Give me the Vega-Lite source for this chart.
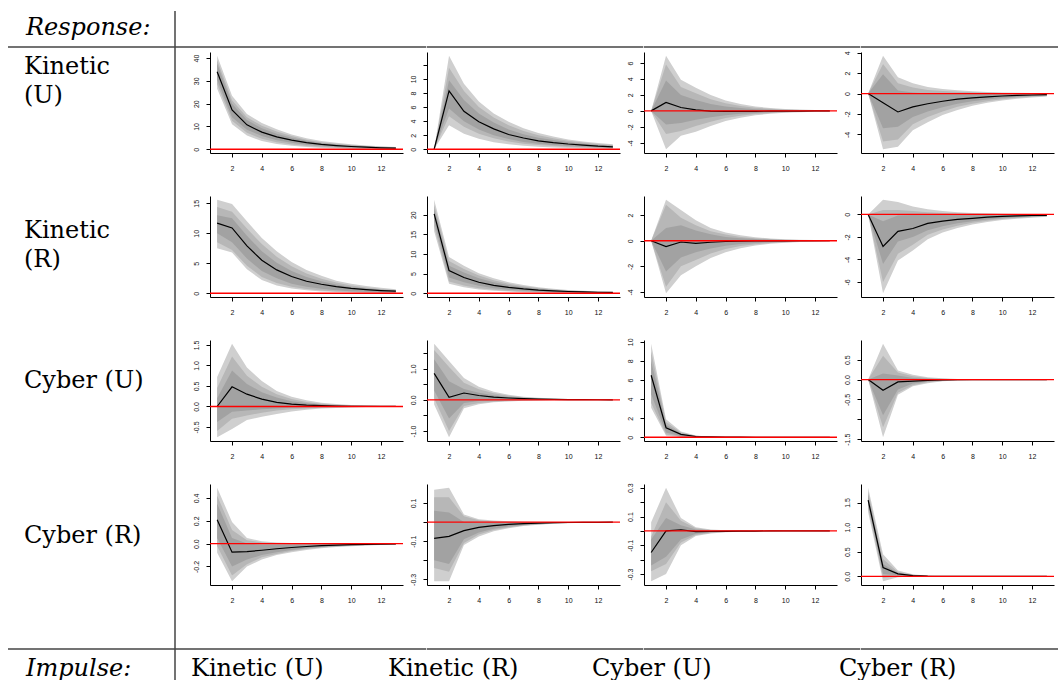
{
  "$schema": "https://vega.github.io/schema/vega-lite/v6.json",
  "background": "white",
  "padding": {"left": 7, "top": 0, "right": 0, "bottom": 0},
  "columns": 5,
  "spacing": 0,
  "bounds": "flush",
  "align": "each",
  "datasets": {
    "one": [{"k": 1}],
    "irf": [
      {"r":"KU","i":"KU","h":1,"m":34,"l1":30.5,"u1":37.5,"l2":28.5,"u2":39,"l3":26.5,"u3":41},
      {"r":"KU","i":"KU","h":2,"m":17.2,"l1":14,"u1":20,"l2":12.5,"u2":21.5,"l3":11,"u3":23.5},
      {"r":"KU","i":"KU","h":3,"m":10.7,"l1":8.5,"u1":12.8,"l2":7.2,"u2":14,"l3":6,"u3":15.5},
      {"r":"KU","i":"KU","h":4,"m":7.5,"l1":5.8,"u1":9.2,"l2":4.6,"u2":10.3,"l3":3.6,"u3":11.5},
      {"r":"KU","i":"KU","h":5,"m":5.4,"l1":4,"u1":6.8,"l2":3.1,"u2":7.8,"l3":2.3,"u3":8.8},
      {"r":"KU","i":"KU","h":6,"m":4,"l1":2.8,"u1":5.1,"l2":2.1,"u2":5.8,"l3":1.5,"u3":6.5},
      {"r":"KU","i":"KU","h":7,"m":2.9,"l1":2,"u1":3.7,"l2":1.4,"u2":4.2,"l3":1,"u3":4.8},
      {"r":"KU","i":"KU","h":8,"m":2.1,"l1":1.4,"u1":2.7,"l2":0.95,"u2":3.1,"l3":0.6,"u3":3.6},
      {"r":"KU","i":"KU","h":9,"m":1.6,"l1":1,"u1":2.05,"l2":0.65,"u2":2.4,"l3":0.4,"u3":2.8},
      {"r":"KU","i":"KU","h":10,"m":1.2,"l1":0.7,"u1":1.6,"l2":0.45,"u2":1.9,"l3":0.25,"u3":2.2},
      {"r":"KU","i":"KU","h":11,"m":0.9,"l1":0.5,"u1":1.2,"l2":0.3,"u2":1.45,"l3":0.15,"u3":1.7},
      {"r":"KU","i":"KU","h":12,"m":0.65,"l1":0.35,"u1":0.9,"l2":0.2,"u2":1.1,"l3":0.1,"u3":1.3},
      {"r":"KU","i":"KU","h":13,"m":0.5,"l1":0.25,"u1":0.7,"l2":0.15,"u2":0.85,"l3":0.05,"u3":1},

      {"r":"KU","i":"KR","h":1,"m":0,"l1":0,"u1":0,"l2":0,"u2":0,"l3":0,"u3":0},
      {"r":"KU","i":"KR","h":2,"m":8.3,"l1":5.8,"u1":9.8,"l2":4.7,"u2":11.6,"l3":3.4,"u3":13.3},
      {"r":"KU","i":"KR","h":3,"m":5.4,"l1":4,"u1":7,"l2":3.2,"u2":8.3,"l3":2.2,"u3":9.3},
      {"r":"KU","i":"KR","h":4,"m":3.9,"l1":2.8,"u1":5.1,"l2":2.2,"u2":6,"l3":1.5,"u3":6.8},
      {"r":"KU","i":"KR","h":5,"m":2.9,"l1":2,"u1":3.8,"l2":1.55,"u2":4.5,"l3":1,"u3":5.1},
      {"r":"KU","i":"KR","h":6,"m":2.1,"l1":1.45,"u1":2.8,"l2":1.1,"u2":3.4,"l3":0.7,"u3":3.9},
      {"r":"KU","i":"KR","h":7,"m":1.6,"l1":1.05,"u1":2.15,"l2":0.8,"u2":2.6,"l3":0.5,"u3":3},
      {"r":"KU","i":"KR","h":8,"m":1.2,"l1":0.8,"u1":1.65,"l2":0.6,"u2":2,"l3":0.36,"u3":2.3},
      {"r":"KU","i":"KR","h":9,"m":0.95,"l1":0.6,"u1":1.3,"l2":0.45,"u2":1.55,"l3":0.26,"u3":1.8},
      {"r":"KU","i":"KR","h":10,"m":0.75,"l1":0.45,"u1":1,"l2":0.33,"u2":1.2,"l3":0.19,"u3":1.4},
      {"r":"KU","i":"KR","h":11,"m":0.6,"l1":0.35,"u1":0.8,"l2":0.25,"u2":0.95,"l3":0.14,"u3":1.1},
      {"r":"KU","i":"KR","h":12,"m":0.45,"l1":0.27,"u1":0.62,"l2":0.19,"u2":0.75,"l3":0.1,"u3":0.9},
      {"r":"KU","i":"KR","h":13,"m":0.35,"l1":0.2,"u1":0.5,"l2":0.14,"u2":0.6,"l3":0.07,"u3":0.7},

      {"r":"KU","i":"CU","h":1,"m":0,"l1":0,"u1":0,"l2":0,"u2":0,"l3":0,"u3":0},
      {"r":"KU","i":"CU","h":2,"m":1.05,"l1":-1.7,"u1":3.8,"l2":-2.9,"u2":5.8,"l3":-4.8,"u3":6.9},
      {"r":"KU","i":"CU","h":3,"m":0.42,"l1":-1.5,"u1":2,"l2":-2.5,"u2":3,"l3":-3.1,"u3":3.9},
      {"r":"KU","i":"CU","h":4,"m":0.13,"l1":-1.1,"u1":1.35,"l2":-1.9,"u2":2.2,"l3":-2.6,"u3":2.9},
      {"r":"KU","i":"CU","h":5,"m":-0.02,"l1":-0.8,"u1":0.85,"l2":-1.35,"u2":1.45,"l3":-1.9,"u3":2},
      {"r":"KU","i":"CU","h":6,"m":-0.06,"l1":-0.55,"u1":0.55,"l2":-0.9,"u2":0.95,"l3":-1.25,"u3":1.3},
      {"r":"KU","i":"CU","h":7,"m":-0.06,"l1":-0.37,"u1":0.35,"l2":-0.6,"u2":0.62,"l3":-0.85,"u3":0.85},
      {"r":"KU","i":"CU","h":8,"m":-0.05,"l1":-0.25,"u1":0.22,"l2":-0.4,"u2":0.4,"l3":-0.55,"u3":0.55},
      {"r":"KU","i":"CU","h":9,"m":-0.04,"l1":-0.17,"u1":0.14,"l2":-0.27,"u2":0.26,"l3":-0.36,"u3":0.36},
      {"r":"KU","i":"CU","h":10,"m":-0.03,"l1":-0.11,"u1":0.09,"l2":-0.18,"u2":0.17,"l3":-0.24,"u3":0.24},
      {"r":"KU","i":"CU","h":11,"m":-0.02,"l1":-0.07,"u1":0.06,"l2":-0.12,"u2":0.11,"l3":-0.16,"u3":0.16},
      {"r":"KU","i":"CU","h":12,"m":-0.01,"l1":-0.05,"u1":0.04,"l2":-0.08,"u2":0.07,"l3":-0.1,"u3":0.1},
      {"r":"KU","i":"CU","h":13,"m":-0.01,"l1":-0.03,"u1":0.02,"l2":-0.05,"u2":0.05,"l3":-0.07,"u3":0.07},

      {"r":"KU","i":"CR","h":1,"m":0,"l1":0,"u1":0,"l2":0,"u2":0,"l3":0,"u3":0},
      {"r":"KU","i":"CR","h":2,"m":-0.9,"l1":-3.4,"u1":1.9,"l2":-4.7,"u2":2.9,"l3":-5.45,"u3":3.7},
      {"r":"KU","i":"CR","h":3,"m":-1.8,"l1":-3.25,"u1":0.3,"l2":-4.5,"u2":1,"l3":-5.2,"u3":1.6},
      {"r":"KU","i":"CR","h":4,"m":-1.3,"l1":-2.3,"u1":0.1,"l2":-3,"u2":0.6,"l3":-3.6,"u3":1},
      {"r":"KU","i":"CR","h":5,"m":-1,"l1":-1.75,"u1":0,"l2":-2.3,"u2":0.35,"l3":-2.8,"u3":0.65},
      {"r":"KU","i":"CR","h":6,"m":-0.75,"l1":-1.35,"u1":-0.02,"l2":-1.75,"u2":0.25,"l3":-2.1,"u3":0.45},
      {"r":"KU","i":"CR","h":7,"m":-0.55,"l1":-1,"u1":-0.02,"l2":-1.3,"u2":0.18,"l3":-1.6,"u3":0.32},
      {"r":"KU","i":"CR","h":8,"m":-0.42,"l1":-0.75,"u1":-0.02,"l2":-1,"u2":0.12,"l3":-1.2,"u3":0.22},
      {"r":"KU","i":"CR","h":9,"m":-0.32,"l1":-0.57,"u1":-0.01,"l2":-0.75,"u2":0.09,"l3":-0.9,"u3":0.16},
      {"r":"KU","i":"CR","h":10,"m":-0.24,"l1":-0.43,"u1":-0.01,"l2":-0.56,"u2":0.06,"l3":-0.68,"u3":0.11},
      {"r":"KU","i":"CR","h":11,"m":-0.18,"l1":-0.33,"u1":0,"l2":-0.42,"u2":0.04,"l3":-0.5,"u3":0.08},
      {"r":"KU","i":"CR","h":12,"m":-0.14,"l1":-0.25,"u1":0,"l2":-0.32,"u2":0.03,"l3":-0.38,"u3":0.05},
      {"r":"KU","i":"CR","h":13,"m":-0.1,"l1":-0.19,"u1":0,"l2":-0.24,"u2":0.02,"l3":-0.29,"u3":0.04},

      {"r":"KR","i":"KU","h":1,"m":11.7,"l1":10,"u1":13,"l2":8.5,"u2":14.4,"l3":7.5,"u3":15.6},
      {"r":"KR","i":"KU","h":2,"m":10.9,"l1":8.5,"u1":12.5,"l2":7.2,"u2":13.6,"l3":6.8,"u3":14.9},
      {"r":"KR","i":"KU","h":3,"m":7.9,"l1":5.8,"u1":9.6,"l2":4.6,"u2":10.8,"l3":4,"u3":12},
      {"r":"KR","i":"KU","h":4,"m":5.5,"l1":3.7,"u1":7,"l2":2.7,"u2":8.2,"l3":2.2,"u3":9.2},
      {"r":"KR","i":"KU","h":5,"m":3.9,"l1":2.5,"u1":5.1,"l2":1.7,"u2":6.1,"l3":1.3,"u3":7},
      {"r":"KR","i":"KU","h":6,"m":2.8,"l1":1.6,"u1":3.7,"l2":1.1,"u2":4.5,"l3":0.8,"u3":5.2},
      {"r":"KR","i":"KU","h":7,"m":2,"l1":1.1,"u1":2.7,"l2":0.7,"u2":3.3,"l3":0.5,"u3":3.9},
      {"r":"KR","i":"KU","h":8,"m":1.5,"l1":0.75,"u1":2,"l2":0.45,"u2":2.4,"l3":0.3,"u3":2.9},
      {"r":"KR","i":"KU","h":9,"m":1.1,"l1":0.5,"u1":1.45,"l2":0.3,"u2":1.8,"l3":0.2,"u3":2.1},
      {"r":"KR","i":"KU","h":10,"m":0.8,"l1":0.35,"u1":1.05,"l2":0.2,"u2":1.3,"l3":0.13,"u3":1.6},
      {"r":"KR","i":"KU","h":11,"m":0.6,"l1":0.25,"u1":0.78,"l2":0.14,"u2":0.95,"l3":0.08,"u3":1.2},
      {"r":"KR","i":"KU","h":12,"m":0.45,"l1":0.18,"u1":0.58,"l2":0.1,"u2":0.72,"l3":0.05,"u3":0.9},
      {"r":"KR","i":"KU","h":13,"m":0.35,"l1":0.13,"u1":0.43,"l2":0.07,"u2":0.54,"l3":0.03,"u3":0.68},

      {"r":"KR","i":"KR","h":1,"m":20.2,"l1":18.5,"u1":21.5,"l2":17,"u2":22.5,"l3":15.8,"u3":23.8},
      {"r":"KR","i":"KR","h":2,"m":5.8,"l1":4,"u1":7,"l2":3,"u2":8.2,"l3":2.4,"u3":9.2},
      {"r":"KR","i":"KR","h":3,"m":4,"l1":2.8,"u1":5.3,"l2":2,"u2":6.2,"l3":1.5,"u3":7},
      {"r":"KR","i":"KR","h":4,"m":2.8,"l1":1.9,"u1":3.8,"l2":1.3,"u2":4.5,"l3":0.95,"u3":5.1},
      {"r":"KR","i":"KR","h":5,"m":2,"l1":1.3,"u1":2.8,"l2":0.9,"u2":3.3,"l3":0.65,"u3":3.8},
      {"r":"KR","i":"KR","h":6,"m":1.5,"l1":0.9,"u1":2.05,"l2":0.6,"u2":2.45,"l3":0.43,"u3":2.8},
      {"r":"KR","i":"KR","h":7,"m":1.1,"l1":0.62,"u1":1.5,"l2":0.4,"u2":1.8,"l3":0.28,"u3":2.1},
      {"r":"KR","i":"KR","h":8,"m":0.8,"l1":0.43,"u1":1.1,"l2":0.27,"u2":1.33,"l3":0.18,"u3":1.55},
      {"r":"KR","i":"KR","h":9,"m":0.6,"l1":0.3,"u1":0.8,"l2":0.18,"u2":0.98,"l3":0.12,"u3":1.15},
      {"r":"KR","i":"KR","h":10,"m":0.45,"l1":0.2,"u1":0.6,"l2":0.12,"u2":0.72,"l3":0.08,"u3":0.85},
      {"r":"KR","i":"KR","h":11,"m":0.35,"l1":0.14,"u1":0.44,"l2":0.08,"u2":0.53,"l3":0.05,"u3":0.63},
      {"r":"KR","i":"KR","h":12,"m":0.26,"l1":0.1,"u1":0.32,"l2":0.05,"u2":0.39,"l3":0.03,"u3":0.47},
      {"r":"KR","i":"KR","h":13,"m":0.2,"l1":0.07,"u1":0.24,"l2":0.03,"u2":0.29,"l3":0.02,"u3":0.35},

      {"r":"KR","i":"CU","h":1,"m":0,"l1":0,"u1":0,"l2":0,"u2":0,"l3":0,"u3":0},
      {"r":"KR","i":"CU","h":2,"m":-0.45,"l1":-2.4,"u1":1,"l2":-3.6,"u2":2.8,"l3":-4.1,"u3":3.2},
      {"r":"KR","i":"CU","h":3,"m":-0.1,"l1":-1.3,"u1":1.2,"l2":-2,"u2":1.8,"l3":-2.7,"u3":2.4},
      {"r":"KR","i":"CU","h":4,"m":-0.2,"l1":-0.9,"u1":0.8,"l2":-1.5,"u2":1.2,"l3":-2,"u3":1.6},
      {"r":"KR","i":"CU","h":5,"m":-0.12,"l1":-0.6,"u1":0.5,"l2":-1,"u2":0.75,"l3":-1.35,"u3":1},
      {"r":"KR","i":"CU","h":6,"m":-0.06,"l1":-0.4,"u1":0.3,"l2":-0.65,"u2":0.48,"l3":-0.9,"u3":0.65},
      {"r":"KR","i":"CU","h":7,"m":-0.04,"l1":-0.26,"u1":0.2,"l2":-0.42,"u2":0.3,"l3":-0.58,"u3":0.42},
      {"r":"KR","i":"CU","h":8,"m":-0.02,"l1":-0.17,"u1":0.13,"l2":-0.27,"u2":0.2,"l3":-0.37,"u3":0.27},
      {"r":"KR","i":"CU","h":9,"m":-0.01,"l1":-0.11,"u1":0.08,"l2":-0.18,"u2":0.13,"l3":-0.24,"u3":0.18},
      {"r":"KR","i":"CU","h":10,"m":-0.01,"l1":-0.07,"u1":0.05,"l2":-0.12,"u2":0.08,"l3":-0.16,"u3":0.12},
      {"r":"KR","i":"CU","h":11,"m":0,"l1":-0.05,"u1":0.03,"l2":-0.08,"u2":0.05,"l3":-0.1,"u3":0.08},
      {"r":"KR","i":"CU","h":12,"m":0,"l1":-0.03,"u1":0.02,"l2":-0.05,"u2":0.035,"l3":-0.07,"u3":0.05},
      {"r":"KR","i":"CU","h":13,"m":0,"l1":-0.02,"u1":0.01,"l2":-0.03,"u2":0.02,"l3":-0.04,"u3":0.03},

      {"r":"KR","i":"CR","h":1,"m":0,"l1":0,"u1":0,"l2":0,"u2":0,"l3":0,"u3":0},
      {"r":"KR","i":"CR","h":2,"m":-2.85,"l1":-4.4,"u1":-0.6,"l2":-6,"u2":0.4,"l3":-7,"u3":1.3},
      {"r":"KR","i":"CR","h":3,"m":-1.5,"l1":-2.4,"u1":-0.1,"l2":-3.5,"u2":0.4,"l3":-4.1,"u3":1.1},
      {"r":"KR","i":"CR","h":4,"m":-1.25,"l1":-2,"u1":-0.05,"l2":-2.7,"u2":0.3,"l3":-3.2,"u3":0.7},
      {"r":"KR","i":"CR","h":5,"m":-0.8,"l1":-1.4,"u1":-0.05,"l2":-1.8,"u2":0.2,"l3":-2.2,"u3":0.45},
      {"r":"KR","i":"CR","h":6,"m":-0.6,"l1":-1.05,"u1":-0.05,"l2":-1.35,"u2":0.12,"l3":-1.6,"u3":0.3},
      {"r":"KR","i":"CR","h":7,"m":-0.45,"l1":-0.78,"u1":-0.04,"l2":-1,"u2":0.08,"l3":-1.2,"u3":0.2},
      {"r":"KR","i":"CR","h":8,"m":-0.35,"l1":-0.6,"u1":-0.03,"l2":-0.75,"u2":0.05,"l3":-0.9,"u3":0.13},
      {"r":"KR","i":"CR","h":9,"m":-0.25,"l1":-0.45,"u1":-0.02,"l2":-0.56,"u2":0.03,"l3":-0.67,"u3":0.09},
      {"r":"KR","i":"CR","h":10,"m":-0.18,"l1":-0.34,"u1":-0.02,"l2":-0.42,"u2":0.02,"l3":-0.5,"u3":0.06},
      {"r":"KR","i":"CR","h":11,"m":-0.14,"l1":-0.26,"u1":-0.01,"l2":-0.32,"u2":0.01,"l3":-0.38,"u3":0.04},
      {"r":"KR","i":"CR","h":12,"m":-0.1,"l1":-0.2,"u1":-0.01,"l2":-0.24,"u2":0.01,"l3":-0.29,"u3":0.03},
      {"r":"KR","i":"CR","h":13,"m":-0.08,"l1":-0.15,"u1":-0.01,"l2":-0.18,"u2":0,"l3":-0.22,"u3":0.02},

      {"r":"CU","i":"KU","h":1,"m":0,"l1":-0.38,"u1":0.2,"l2":-0.6,"u2":0.45,"l3":-0.75,"u3":0.72},
      {"r":"CU","i":"KU","h":2,"m":0.48,"l1":-0.13,"u1":0.88,"l2":-0.3,"u2":1.22,"l3":-0.55,"u3":1.53},
      {"r":"CU","i":"KU","h":3,"m":0.3,"l1":-0.1,"u1":0.55,"l2":-0.22,"u2":0.75,"l3":-0.33,"u3":0.95},
      {"r":"CU","i":"KU","h":4,"m":0.18,"l1":-0.07,"u1":0.35,"l2":-0.15,"u2":0.48,"l3":-0.25,"u3":0.62},
      {"r":"CU","i":"KU","h":5,"m":0.1,"l1":-0.05,"u1":0.22,"l2":-0.1,"u2":0.3,"l3":-0.18,"u3":0.38},
      {"r":"CU","i":"KU","h":6,"m":0.06,"l1":-0.03,"u1":0.13,"l2":-0.07,"u2":0.18,"l3":-0.12,"u3":0.24},
      {"r":"CU","i":"KU","h":7,"m":0.035,"l1":-0.02,"u1":0.08,"l2":-0.05,"u2":0.11,"l3":-0.08,"u3":0.15},
      {"r":"CU","i":"KU","h":8,"m":0.02,"l1":-0.012,"u1":0.05,"l2":-0.03,"u2":0.07,"l3":-0.05,"u3":0.09},
      {"r":"CU","i":"KU","h":9,"m":0.01,"l1":-0.008,"u1":0.03,"l2":-0.02,"u2":0.04,"l3":-0.035,"u3":0.06},
      {"r":"CU","i":"KU","h":10,"m":0.005,"l1":-0.005,"u1":0.018,"l2":-0.015,"u2":0.025,"l3":-0.022,"u3":0.035},
      {"r":"CU","i":"KU","h":11,"m":0.003,"l1":-0.003,"u1":0.011,"l2":-0.01,"u2":0.016,"l3":-0.014,"u3":0.022},
      {"r":"CU","i":"KU","h":12,"m":0.002,"l1":-0.002,"u1":0.007,"l2":-0.006,"u2":0.01,"l3":-0.009,"u3":0.014},
      {"r":"CU","i":"KU","h":13,"m":0.001,"l1":-0.001,"u1":0.004,"l2":-0.004,"u2":0.006,"l3":-0.006,"u3":0.009},

      {"r":"CU","i":"KR","h":1,"m":0.85,"l1":0.3,"u1":1.3,"l2":0.05,"u2":1.6,"l3":-0.15,"u3":1.8},
      {"r":"CU","i":"KR","h":2,"m":0.08,"l1":-0.6,"u1":0.6,"l2":-1,"u2":1.05,"l3":-1.2,"u3":1.25},
      {"r":"CU","i":"KR","h":3,"m":0.22,"l1":-0.1,"u1":0.35,"l2":-0.2,"u2":0.55,"l3":-0.27,"u3":0.7},
      {"r":"CU","i":"KR","h":4,"m":0.14,"l1":-0.04,"u1":0.23,"l2":-0.1,"u2":0.34,"l3":-0.14,"u3":0.42},
      {"r":"CU","i":"KR","h":5,"m":0.09,"l1":-0.02,"u1":0.15,"l2":-0.06,"u2":0.21,"l3":-0.08,"u3":0.26},
      {"r":"CU","i":"KR","h":6,"m":0.06,"l1":-0.01,"u1":0.09,"l2":-0.03,"u2":0.13,"l3":-0.05,"u3":0.16},
      {"r":"CU","i":"KR","h":7,"m":0.04,"l1":-0.005,"u1":0.06,"l2":-0.02,"u2":0.08,"l3":-0.03,"u3":0.1},
      {"r":"CU","i":"KR","h":8,"m":0.025,"l1":0,"u1":0.035,"l2":-0.01,"u2":0.05,"l3":-0.02,"u3":0.065},
      {"r":"CU","i":"KR","h":9,"m":0.016,"l1":0,"u1":0.022,"l2":-0.006,"u2":0.032,"l3":-0.012,"u3":0.04},
      {"r":"CU","i":"KR","h":10,"m":0.01,"l1":0,"u1":0.014,"l2":-0.004,"u2":0.02,"l3":-0.008,"u3":0.026},
      {"r":"CU","i":"KR","h":11,"m":0.006,"l1":0,"u1":0.009,"l2":-0.002,"u2":0.013,"l3":-0.005,"u3":0.016},
      {"r":"CU","i":"KR","h":12,"m":0.004,"l1":0,"u1":0.006,"l2":-0.001,"u2":0.008,"l3":-0.003,"u3":0.01},
      {"r":"CU","i":"KR","h":13,"m":0.002,"l1":0,"u1":0.003,"l2":-0.001,"u2":0.005,"l3":-0.002,"u3":0.006},

      {"r":"CU","i":"CU","h":1,"m":6.5,"l1":4.5,"u1":8,"l2":3.6,"u2":9,"l3":3.1,"u3":9.8},
      {"r":"CU","i":"CU","h":2,"m":1,"l1":0.5,"u1":1.3,"l2":0.3,"u2":1.6,"l3":0.15,"u3":1.9},
      {"r":"CU","i":"CU","h":3,"m":0.3,"l1":0.1,"u1":0.4,"l2":0.05,"u2":0.5,"l3":0.02,"u3":0.6},
      {"r":"CU","i":"CU","h":4,"m":0.08,"l1":0.03,"u1":0.12,"l2":0.015,"u2":0.15,"l3":0.005,"u3":0.18},
      {"r":"CU","i":"CU","h":5,"m":0.03,"l1":0.01,"u1":0.04,"l2":0.005,"u2":0.05,"l3":0,"u3":0.06},
      {"r":"CU","i":"CU","h":6,"m":0.01,"l1":0.003,"u1":0.012,"l2":0.001,"u2":0.015,"l3":0,"u3":0.02},
      {"r":"CU","i":"CU","h":7,"m":0.004,"l1":0.001,"u1":0.005,"l2":0,"u2":0.006,"l3":0,"u3":0.008},
      {"r":"CU","i":"CU","h":8,"m":0.002,"l1":0,"u1":0.002,"l2":0,"u2":0.003,"l3":0,"u3":0.004},
      {"r":"CU","i":"CU","h":9,"m":0.001,"l1":0,"u1":0.001,"l2":0,"u2":0.001,"l3":0,"u3":0.002},
      {"r":"CU","i":"CU","h":10,"m":0,"l1":0,"u1":0,"l2":0,"u2":0.001,"l3":0,"u3":0.001},
      {"r":"CU","i":"CU","h":11,"m":0,"l1":0,"u1":0,"l2":0,"u2":0,"l3":0,"u3":0},
      {"r":"CU","i":"CU","h":12,"m":0,"l1":0,"u1":0,"l2":0,"u2":0,"l3":0,"u3":0},
      {"r":"CU","i":"CU","h":13,"m":0,"l1":0,"u1":0,"l2":0,"u2":0,"l3":0,"u3":0},

      {"r":"CU","i":"CR","h":1,"m":0,"l1":0,"u1":0,"l2":0,"u2":0,"l3":0,"u3":0},
      {"r":"CU","i":"CR","h":2,"m":-0.27,"l1":-0.9,"u1":0.15,"l2":-1.2,"u2":0.6,"l3":-1.45,"u3":0.9},
      {"r":"CU","i":"CR","h":3,"m":-0.06,"l1":-0.25,"u1":0.1,"l2":-0.33,"u2":0.18,"l3":-0.38,"u3":0.23},
      {"r":"CU","i":"CR","h":4,"m":-0.04,"l1":-0.1,"u1":0.04,"l2":-0.14,"u2":0.08,"l3":-0.17,"u3":0.12},
      {"r":"CU","i":"CR","h":5,"m":-0.02,"l1":-0.05,"u1":0.02,"l2":-0.07,"u2":0.04,"l3":-0.09,"u3":0.06},
      {"r":"CU","i":"CR","h":6,"m":-0.01,"l1":-0.025,"u1":0.01,"l2":-0.035,"u2":0.02,"l3":-0.045,"u3":0.03},
      {"r":"CU","i":"CR","h":7,"m":-0.005,"l1":-0.012,"u1":0.005,"l2":-0.018,"u2":0.01,"l3":-0.024,"u3":0.015},
      {"r":"CU","i":"CR","h":8,"m":-0.003,"l1":-0.006,"u1":0.002,"l2":-0.009,"u2":0.005,"l3":-0.012,"u3":0.008},
      {"r":"CU","i":"CR","h":9,"m":-0.001,"l1":-0.003,"u1":0.001,"l2":-0.005,"u2":0.002,"l3":-0.006,"u3":0.004},
      {"r":"CU","i":"CR","h":10,"m":0,"l1":-0.002,"u1":0,"l2":-0.002,"u2":0.001,"l3":-0.003,"u3":0.002},
      {"r":"CU","i":"CR","h":11,"m":0,"l1":-0.001,"u1":0,"l2":-0.001,"u2":0,"l3":-0.002,"u3":0.001},
      {"r":"CU","i":"CR","h":12,"m":0,"l1":0,"u1":0,"l2":0,"u2":0,"l3":-0.001,"u3":0.001},
      {"r":"CU","i":"CR","h":13,"m":0,"l1":0,"u1":0,"l2":0,"u2":0,"l3":0,"u3":0},

      {"r":"CR","i":"KU","h":1,"m":0.21,"l1":0.05,"u1":0.35,"l2":-0.02,"u2":0.42,"l3":-0.08,"u3":0.49},
      {"r":"CR","i":"KU","h":2,"m":-0.075,"l1":-0.2,"u1":0.05,"l2":-0.28,"u2":0.12,"l3":-0.33,"u3":0.19},
      {"r":"CR","i":"KU","h":3,"m":-0.07,"l1":-0.14,"u1":0,"l2":-0.18,"u2":0.03,"l3":-0.2,"u3":0.05},
      {"r":"CR","i":"KU","h":4,"m":-0.058,"l1":-0.1,"u1":-0.01,"l2":-0.12,"u2":0.01,"l3":-0.14,"u3":0.02},
      {"r":"CR","i":"KU","h":5,"m":-0.045,"l1":-0.075,"u1":-0.01,"l2":-0.09,"u2":0,"l3":-0.1,"u3":0.01},
      {"r":"CR","i":"KU","h":6,"m":-0.034,"l1":-0.055,"u1":-0.008,"l2":-0.065,"u2":0,"l3":-0.075,"u3":0.005},
      {"r":"CR","i":"KU","h":7,"m":-0.025,"l1":-0.04,"u1":-0.006,"l2":-0.048,"u2":0,"l3":-0.055,"u3":0.003},
      {"r":"CR","i":"KU","h":8,"m":-0.018,"l1":-0.03,"u1":-0.004,"l2":-0.035,"u2":0,"l3":-0.04,"u3":0.002},
      {"r":"CR","i":"KU","h":9,"m":-0.013,"l1":-0.022,"u1":-0.003,"l2":-0.026,"u2":0,"l3":-0.03,"u3":0.001},
      {"r":"CR","i":"KU","h":10,"m":-0.009,"l1":-0.016,"u1":-0.002,"l2":-0.019,"u2":0,"l3":-0.022,"u3":0},
      {"r":"CR","i":"KU","h":11,"m":-0.006,"l1":-0.011,"u1":-0.001,"l2":-0.014,"u2":0,"l3":-0.016,"u3":0},
      {"r":"CR","i":"KU","h":12,"m":-0.004,"l1":-0.008,"u1":-0.001,"l2":-0.01,"u2":0,"l3":-0.012,"u3":0},
      {"r":"CR","i":"KU","h":13,"m":-0.003,"l1":-0.006,"u1":0,"l2":-0.007,"u2":0,"l3":-0.009,"u3":0},

      {"r":"CR","i":"KR","h":1,"m":-0.085,"l1":-0.2,"u1":0.06,"l2":-0.24,"u2":0.13,"l3":-0.31,"u3":0.17},
      {"r":"CR","i":"KR","h":2,"m":-0.075,"l1":-0.22,"u1":0.05,"l2":-0.26,"u2":0.13,"l3":-0.31,"u3":0.18},
      {"r":"CR","i":"KR","h":3,"m":-0.045,"l1":-0.09,"u1":0,"l2":-0.11,"u2":0.03,"l3":-0.12,"u3":0.04},
      {"r":"CR","i":"KR","h":4,"m":-0.028,"l1":-0.055,"u1":-0.005,"l2":-0.065,"u2":0.01,"l3":-0.075,"u3":0.015},
      {"r":"CR","i":"KR","h":5,"m":-0.018,"l1":-0.035,"u1":-0.004,"l2":-0.042,"u2":0.004,"l3":-0.048,"u3":0.008},
      {"r":"CR","i":"KR","h":6,"m":-0.012,"l1":-0.023,"u1":-0.003,"l2":-0.028,"u2":0.002,"l3":-0.032,"u3":0.004},
      {"r":"CR","i":"KR","h":7,"m":-0.008,"l1":-0.015,"u1":-0.002,"l2":-0.018,"u2":0.001,"l3":-0.021,"u3":0.002},
      {"r":"CR","i":"KR","h":8,"m":-0.005,"l1":-0.01,"u1":-0.001,"l2":-0.012,"u2":0,"l3":-0.014,"u3":0.001},
      {"r":"CR","i":"KR","h":9,"m":-0.003,"l1":-0.006,"u1":-0.001,"l2":-0.008,"u2":0,"l3":-0.009,"u3":0.001},
      {"r":"CR","i":"KR","h":10,"m":-0.002,"l1":-0.004,"u1":0,"l2":-0.005,"u2":0,"l3":-0.006,"u3":0},
      {"r":"CR","i":"KR","h":11,"m":-0.001,"l1":-0.003,"u1":0,"l2":-0.003,"u2":0,"l3":-0.004,"u3":0},
      {"r":"CR","i":"KR","h":12,"m":-0.001,"l1":-0.002,"u1":0,"l2":-0.002,"u2":0,"l3":-0.003,"u3":0},
      {"r":"CR","i":"KR","h":13,"m":0,"l1":-0.001,"u1":0,"l2":-0.001,"u2":0,"l3":-0.002,"u3":0},

      {"r":"CR","i":"CU","h":1,"m":-0.15,"l1":-0.24,"u1":-0.06,"l2":-0.28,"u2":-0.04,"l3":-0.35,"u3":0.06},
      {"r":"CR","i":"CU","h":2,"m":0,"l1":-0.18,"u1":0.09,"l2":-0.23,"u2":0.2,"l3":-0.3,"u3":0.3},
      {"r":"CR","i":"CU","h":3,"m":0.008,"l1":-0.06,"u1":0.04,"l2":-0.08,"u2":0.07,"l3":-0.1,"u3":0.09},
      {"r":"CR","i":"CU","h":4,"m":-0.005,"l1":-0.02,"u1":0.01,"l2":-0.028,"u2":0.018,"l3":-0.035,"u3":0.025},
      {"r":"CR","i":"CU","h":5,"m":-0.004,"l1":-0.01,"u1":0.004,"l2":-0.014,"u2":0.007,"l3":-0.018,"u3":0.01},
      {"r":"CR","i":"CU","h":6,"m":-0.003,"l1":-0.006,"u1":0.002,"l2":-0.008,"u2":0.003,"l3":-0.01,"u3":0.005},
      {"r":"CR","i":"CU","h":7,"m":-0.002,"l1":-0.004,"u1":0.001,"l2":-0.005,"u2":0.002,"l3":-0.006,"u3":0.003},
      {"r":"CR","i":"CU","h":8,"m":-0.001,"l1":-0.002,"u1":0,"l2":-0.003,"u2":0.001,"l3":-0.004,"u3":0.002},
      {"r":"CR","i":"CU","h":9,"m":0,"l1":-0.001,"u1":0,"l2":-0.002,"u2":0.001,"l3":-0.002,"u3":0.001},
      {"r":"CR","i":"CU","h":10,"m":0,"l1":-0.001,"u1":0,"l2":-0.001,"u2":0,"l3":-0.001,"u3":0.001},
      {"r":"CR","i":"CU","h":11,"m":0,"l1":0,"u1":0,"l2":0,"u2":0,"l3":-0.001,"u3":0},
      {"r":"CR","i":"CU","h":12,"m":0,"l1":0,"u1":0,"l2":0,"u2":0,"l3":0,"u3":0},
      {"r":"CR","i":"CU","h":13,"m":0,"l1":0,"u1":0,"l2":0,"u2":0,"l3":0,"u3":0},

      {"r":"CR","i":"CR","h":1,"m":1.55,"l1":1.45,"u1":1.65,"l2":1.38,"u2":1.72,"l3":1.3,"u3":1.8},
      {"r":"CR","i":"CR","h":2,"m":0.18,"l1":0.05,"u1":0.25,"l2":-0.03,"u2":0.35,"l3":-0.1,"u3":0.45},
      {"r":"CR","i":"CR","h":3,"m":0.05,"l1":0.02,"u1":0.07,"l2":0,"u2":0.09,"l3":-0.02,"u3":0.12},
      {"r":"CR","i":"CR","h":4,"m":0.015,"l1":0.005,"u1":0.02,"l2":0,"u2":0.03,"l3":-0.005,"u3":0.04},
      {"r":"CR","i":"CR","h":5,"m":0.005,"l1":0.002,"u1":0.007,"l2":0,"u2":0.009,"l3":-0.002,"u3":0.012},
      {"r":"CR","i":"CR","h":6,"m":0.002,"l1":0,"u1":0.002,"l2":0,"u2":0.003,"l3":0,"u3":0.004},
      {"r":"CR","i":"CR","h":7,"m":0.001,"l1":0,"u1":0.001,"l2":0,"u2":0.001,"l3":0,"u3":0.002},
      {"r":"CR","i":"CR","h":8,"m":0,"l1":0,"u1":0,"l2":0,"u2":0,"l3":0,"u3":0},
      {"r":"CR","i":"CR","h":9,"m":0,"l1":0,"u1":0,"l2":0,"u2":0,"l3":0,"u3":0},
      {"r":"CR","i":"CR","h":10,"m":0,"l1":0,"u1":0,"l2":0,"u2":0,"l3":0,"u3":0},
      {"r":"CR","i":"CR","h":11,"m":0,"l1":0,"u1":0,"l2":0,"u2":0,"l3":0,"u3":0},
      {"r":"CR","i":"CR","h":12,"m":0,"l1":0,"u1":0,"l2":0,"u2":0,"l3":0,"u3":0},
      {"r":"CR","i":"CR","h":13,"m":0,"l1":0,"u1":0,"l2":0,"u2":0,"l3":0,"u3":0}
    ]
  },
  "concat": [
    {"width": 202, "height": 52, "data": {"name": "one"}, "layer": [
      {"mark": {"type": "text", "text": "Response:", "font": "DejaVu Serif", "fontSize": 24, "fontStyle": "italic", "align": "left", "baseline": "alphabetic", "color": "black"},
       "encoding": {"x": {"datum": 18, "type": "quantitative", "scale": {"domain": [0, 202], "range": [0, 202], "nice": false, "zero": false}, "axis": null},
                    "y": {"datum": 35, "type": "quantitative", "scale": {"domain": [0, 52], "range": [0, 52], "nice": false, "zero": false}, "axis": null}}},
      {"mark": {"type": "rule", "color": "#444", "strokeWidth": 1.5},
       "encoding": {"x": {"datum": 167, "type": "quantitative"}, "y": {"datum": 11, "type": "quantitative"}, "y2": {"datum": 52}}},
      {"mark": {"type": "rule", "color": "#444", "strokeWidth": 1.5},
       "encoding": {"y": {"datum": 47, "type": "quantitative"}}}
    ]},
    {"width": 216.3, "height": 52, "data": {"name": "one"}, "mark": {"type": "rule", "color": "#444", "strokeWidth": 1.5},
     "encoding": {"y": {"datum": 47, "type": "quantitative", "scale": {"domain": [0, 52], "range": [0, 52], "nice": false, "zero": false}, "axis": null}}},
    {"width": 216.3, "height": 52, "data": {"name": "one"}, "mark": {"type": "rule", "color": "#444", "strokeWidth": 1.5},
     "encoding": {"y": {"datum": 47, "type": "quantitative", "scale": {"domain": [0, 52], "range": [0, 52], "nice": false, "zero": false}, "axis": null}}},
    {"width": 216.3, "height": 52, "data": {"name": "one"}, "mark": {"type": "rule", "color": "#444", "strokeWidth": 1.5},
     "encoding": {"y": {"datum": 47, "type": "quantitative", "scale": {"domain": [0, 52], "range": [0, 52], "nice": false, "zero": false}, "axis": null}}},
    {"width": 199.1, "height": 52, "data": {"name": "one"}, "mark": {"type": "rule", "color": "#444", "strokeWidth": 1.5},
     "encoding": {"y": {"datum": 47, "type": "quantitative", "scale": {"domain": [0, 52], "range": [0, 52], "nice": false, "zero": false}, "axis": null}}},

    {"width": 202, "height": 144, "data": {"name": "one"}, "layer": [
      {"mark": {"type": "text", "text": "Kinetic|(U)", "lineBreak": "|", "lineHeight": 29, "font": "DejaVu Serif", "fontSize": 24, "align": "left", "baseline": "alphabetic", "color": "black"},
       "encoding": {"x": {"datum": 16, "type": "quantitative", "scale": {"domain": [0, 202], "range": [0, 202], "nice": false, "zero": false}, "axis": null},
                    "y": {"datum": 22, "type": "quantitative", "scale": {"domain": [0, 144], "range": [0, 144], "nice": false, "zero": false}, "axis": null}}},
      {"mark": {"type": "rule", "color": "#444", "strokeWidth": 1.5}, "encoding": {"x": {"datum": 167, "type": "quantitative"}}}
    ]},
    {"width": 216.3, "height": 144, "data": {"name": "irf"}, "transform": [{"filter": "datum.r == 'KU' && datum.i == 'KU'"}],
     "encoding": {"x": {"field": "h", "type": "quantitative", "title": null, "scale": {"domain": [0.52, 13.48], "range": [0, 193], "nice": false, "zero": false}, "axis": {"values": [2, 4, 6, 8, 10, 12], "tickCount": 20, "format": "d", "offset": -43, "title": null}}},
     "layer": [
      {"mark": {"type": "area", "color": "#cfcfcf"}, "encoding": {"y": {"field": "l3", "type": "quantitative", "title": null, "scale": {"domain": [-1.64, 42.64], "zero": false, "nice": false, "range": [101, 0]}, "axis": {"title": null, "tickCount": 20, "values": [0, 10, 20, 30, 40], "format": "d"}}, "y2": {"field": "u3"}}},
      {"mark": {"type": "area", "color": "#b7b7b7"}, "encoding": {"y": {"field": "l2", "type": "quantitative", "title": null}, "y2": {"field": "u2"}}},
      {"mark": {"type": "area", "color": "#a2a2a2"}, "encoding": {"y": {"field": "l1", "type": "quantitative", "title": null}, "y2": {"field": "u1"}}},
      {"mark": {"type": "line", "color": "black", "strokeWidth": 1.2}, "encoding": {"y": {"field": "m", "type": "quantitative", "title": null}}},
      {"transform": [{"filter": "datum.h == 1"}], "mark": {"type": "rule", "color": "red", "strokeWidth": 1.3}, "encoding": {"x": {"datum": 0.52}, "x2": {"datum": 13.48}, "y": {"datum": 0}}}
    ]},
    {"width": 216.3, "height": 144, "data": {"name": "irf"}, "transform": [{"filter": "datum.r == 'KU' && datum.i == 'KR'"}],
     "encoding": {"x": {"field": "h", "type": "quantitative", "title": null, "scale": {"domain": [0.52, 13.48], "range": [0, 193], "nice": false, "zero": false}, "axis": {"values": [2, 4, 6, 8, 10, 12], "tickCount": 20, "format": "d", "offset": -43, "title": null}}},
     "layer": [
      {"mark": {"type": "area", "color": "#cfcfcf"}, "encoding": {"y": {"field": "l3", "type": "quantitative", "title": null, "scale": {"domain": [-0.532, 13.832], "zero": false, "nice": false, "range": [101, 0]}, "axis": {"title": null, "tickCount": 20, "values": [0, 2, 4, 6, 8, 10, 12], "format": "d", "labelExpr": "datum.value == 12 ? '' : datum.label"}}, "y2": {"field": "u3"}}},
      {"mark": {"type": "area", "color": "#b7b7b7"}, "encoding": {"y": {"field": "l2", "type": "quantitative", "title": null}, "y2": {"field": "u2"}}},
      {"mark": {"type": "area", "color": "#a2a2a2"}, "encoding": {"y": {"field": "l1", "type": "quantitative", "title": null}, "y2": {"field": "u1"}}},
      {"mark": {"type": "line", "color": "black", "strokeWidth": 1.2}, "encoding": {"y": {"field": "m", "type": "quantitative", "title": null}}},
      {"transform": [{"filter": "datum.h == 1"}], "mark": {"type": "rule", "color": "red", "strokeWidth": 1.3}, "encoding": {"x": {"datum": 0.52}, "x2": {"datum": 13.48}, "y": {"datum": 0}}}
    ]},
    {"width": 216.3, "height": 144, "data": {"name": "irf"}, "transform": [{"filter": "datum.r == 'KU' && datum.i == 'CU'"}],
     "encoding": {"x": {"field": "h", "type": "quantitative", "title": null, "scale": {"domain": [0.52, 13.48], "range": [0, 193], "nice": false, "zero": false}, "axis": {"values": [2, 4, 6, 8, 10, 12], "tickCount": 20, "format": "d", "offset": -43, "title": null}}},
     "layer": [
      {"mark": {"type": "area", "color": "#cfcfcf"}, "encoding": {"y": {"field": "l3", "type": "quantitative", "title": null, "scale": {"domain": [-5.268, 7.368], "zero": false, "nice": false, "range": [101, 0]}, "axis": {"title": null, "tickCount": 20, "values": [-4, -2, 0, 2, 4, 6], "format": "d", "labelExpr": "replace(datum.label, '−', '-')"}}, "y2": {"field": "u3"}}},
      {"mark": {"type": "area", "color": "#b7b7b7"}, "encoding": {"y": {"field": "l2", "type": "quantitative", "title": null}, "y2": {"field": "u2"}}},
      {"mark": {"type": "area", "color": "#a2a2a2"}, "encoding": {"y": {"field": "l1", "type": "quantitative", "title": null}, "y2": {"field": "u1"}}},
      {"mark": {"type": "line", "color": "black", "strokeWidth": 1.2}, "encoding": {"y": {"field": "m", "type": "quantitative", "title": null}}},
      {"transform": [{"filter": "datum.h == 1"}], "mark": {"type": "rule", "color": "red", "strokeWidth": 1.3}, "encoding": {"x": {"datum": 0.52}, "x2": {"datum": 13.48}, "y": {"datum": 0}}}
    ]},
    {"width": 199.1, "height": 144, "data": {"name": "irf"}, "transform": [{"filter": "datum.r == 'KU' && datum.i == 'CR'"}],
     "encoding": {"x": {"field": "h", "type": "quantitative", "title": null, "scale": {"domain": [0.52, 13.48], "range": [0, 193], "nice": false, "zero": false}, "axis": {"values": [2, 4, 6, 8, 10, 12], "tickCount": 20, "format": "d", "offset": -43, "title": null}}},
     "layer": [
      {"mark": {"type": "area", "color": "#cfcfcf"}, "encoding": {"y": {"field": "l3", "type": "quantitative", "title": null, "scale": {"domain": [-5.816, 4.066], "zero": false, "nice": false, "range": [101, 0]}, "axis": {"title": null, "tickCount": 20, "values": [-4, -2, 0, 2, 4], "format": "d", "labelExpr": "replace(datum.label, '−', '-')"}}, "y2": {"field": "u3"}}},
      {"mark": {"type": "area", "color": "#b7b7b7"}, "encoding": {"y": {"field": "l2", "type": "quantitative", "title": null}, "y2": {"field": "u2"}}},
      {"mark": {"type": "area", "color": "#a2a2a2"}, "encoding": {"y": {"field": "l1", "type": "quantitative", "title": null}, "y2": {"field": "u1"}}},
      {"mark": {"type": "line", "color": "black", "strokeWidth": 1.2}, "encoding": {"y": {"field": "m", "type": "quantitative", "title": null}}},
      {"transform": [{"filter": "datum.h == 1"}], "mark": {"type": "rule", "color": "red", "strokeWidth": 1.3}, "encoding": {"x": {"datum": 0.52}, "x2": {"datum": 13.48}, "y": {"datum": 0}}}
    ]},

    {"width": 202, "height": 144, "data": {"name": "one"}, "layer": [
      {"mark": {"type": "text", "text": "Kinetic|(R)", "lineBreak": "|", "lineHeight": 29, "font": "DejaVu Serif", "fontSize": 24, "align": "left", "baseline": "alphabetic", "color": "black"},
       "encoding": {"x": {"datum": 16, "type": "quantitative", "scale": {"domain": [0, 202], "range": [0, 202], "nice": false, "zero": false}, "axis": null},
                    "y": {"datum": 42, "type": "quantitative", "scale": {"domain": [0, 144], "range": [0, 144], "nice": false, "zero": false}, "axis": null}}},
      {"mark": {"type": "rule", "color": "#444", "strokeWidth": 1.5}, "encoding": {"x": {"datum": 167, "type": "quantitative"}}}
    ]},
    {"width": 216.3, "height": 144, "data": {"name": "irf"}, "transform": [{"filter": "datum.r == 'KR' && datum.i == 'KU'"}],
     "encoding": {"x": {"field": "h", "type": "quantitative", "title": null, "scale": {"domain": [0.52, 13.48], "range": [0, 193], "nice": false, "zero": false}, "axis": {"values": [2, 4, 6, 8, 10, 12], "tickCount": 20, "format": "d", "offset": -43, "title": null}}},
     "layer": [
      {"mark": {"type": "area", "color": "#cfcfcf"}, "encoding": {"y": {"field": "l3", "type": "quantitative", "title": null, "scale": {"domain": [-0.624, 16.224], "zero": false, "nice": false, "range": [101, 0]}, "axis": {"title": null, "tickCount": 20, "values": [0, 5, 10, 15], "format": "d"}}, "y2": {"field": "u3"}}},
      {"mark": {"type": "area", "color": "#b7b7b7"}, "encoding": {"y": {"field": "l2", "type": "quantitative", "title": null}, "y2": {"field": "u2"}}},
      {"mark": {"type": "area", "color": "#a2a2a2"}, "encoding": {"y": {"field": "l1", "type": "quantitative", "title": null}, "y2": {"field": "u1"}}},
      {"mark": {"type": "line", "color": "black", "strokeWidth": 1.2}, "encoding": {"y": {"field": "m", "type": "quantitative", "title": null}}},
      {"transform": [{"filter": "datum.h == 1"}], "mark": {"type": "rule", "color": "red", "strokeWidth": 1.3}, "encoding": {"x": {"datum": 0.52}, "x2": {"datum": 13.48}, "y": {"datum": 0}}}
    ]},
    {"width": 216.3, "height": 144, "data": {"name": "irf"}, "transform": [{"filter": "datum.r == 'KR' && datum.i == 'KR'"}],
     "encoding": {"x": {"field": "h", "type": "quantitative", "title": null, "scale": {"domain": [0.52, 13.48], "range": [0, 193], "nice": false, "zero": false}, "axis": {"values": [2, 4, 6, 8, 10, 12], "tickCount": 20, "format": "d", "offset": -43, "title": null}}},
     "layer": [
      {"mark": {"type": "area", "color": "#cfcfcf"}, "encoding": {"y": {"field": "l3", "type": "quantitative", "title": null, "scale": {"domain": [-0.952, 24.752], "zero": false, "nice": false, "range": [101, 0]}, "axis": {"title": null, "tickCount": 20, "values": [0, 5, 10, 15, 20], "format": "d"}}, "y2": {"field": "u3"}}},
      {"mark": {"type": "area", "color": "#b7b7b7"}, "encoding": {"y": {"field": "l2", "type": "quantitative", "title": null}, "y2": {"field": "u2"}}},
      {"mark": {"type": "area", "color": "#a2a2a2"}, "encoding": {"y": {"field": "l1", "type": "quantitative", "title": null}, "y2": {"field": "u1"}}},
      {"mark": {"type": "line", "color": "black", "strokeWidth": 1.2}, "encoding": {"y": {"field": "m", "type": "quantitative", "title": null}}},
      {"transform": [{"filter": "datum.h == 1"}], "mark": {"type": "rule", "color": "red", "strokeWidth": 1.3}, "encoding": {"x": {"datum": 0.52}, "x2": {"datum": 13.48}, "y": {"datum": 0}}}
    ]},
    {"width": 216.3, "height": 144, "data": {"name": "irf"}, "transform": [{"filter": "datum.r == 'KR' && datum.i == 'CU'"}],
     "encoding": {"x": {"field": "h", "type": "quantitative", "title": null, "scale": {"domain": [0.52, 13.48], "range": [0, 193], "nice": false, "zero": false}, "axis": {"values": [2, 4, 6, 8, 10, 12], "tickCount": 20, "format": "d", "offset": -43, "title": null}}},
     "layer": [
      {"mark": {"type": "area", "color": "#cfcfcf"}, "encoding": {"y": {"field": "l3", "type": "quantitative", "title": null, "scale": {"domain": [-4.392, 3.492], "zero": false, "nice": false, "range": [101, 0]}, "axis": {"title": null, "tickCount": 20, "values": [-4, -2, 0, 2], "format": "d", "labelExpr": "replace(datum.label, '−', '-')"}}, "y2": {"field": "u3"}}},
      {"mark": {"type": "area", "color": "#b7b7b7"}, "encoding": {"y": {"field": "l2", "type": "quantitative", "title": null}, "y2": {"field": "u2"}}},
      {"mark": {"type": "area", "color": "#a2a2a2"}, "encoding": {"y": {"field": "l1", "type": "quantitative", "title": null}, "y2": {"field": "u1"}}},
      {"mark": {"type": "line", "color": "black", "strokeWidth": 1.2}, "encoding": {"y": {"field": "m", "type": "quantitative", "title": null}}},
      {"transform": [{"filter": "datum.h == 1"}], "mark": {"type": "rule", "color": "red", "strokeWidth": 1.3}, "encoding": {"x": {"datum": 0.52}, "x2": {"datum": 13.48}, "y": {"datum": 0}}}
    ]},
    {"width": 199.1, "height": 144, "data": {"name": "irf"}, "transform": [{"filter": "datum.r == 'KR' && datum.i == 'CR'"}],
     "encoding": {"x": {"field": "h", "type": "quantitative", "title": null, "scale": {"domain": [0.52, 13.48], "range": [0, 193], "nice": false, "zero": false}, "axis": {"values": [2, 4, 6, 8, 10, 12], "tickCount": 20, "format": "d", "offset": -43, "title": null}}},
     "layer": [
      {"mark": {"type": "area", "color": "#cfcfcf"}, "encoding": {"y": {"field": "l3", "type": "quantitative", "title": null, "scale": {"domain": [-7.332, 1.632], "zero": false, "nice": false, "range": [101, 0]}, "axis": {"title": null, "tickCount": 20, "values": [-6, -4, -2, 0], "format": "d", "labelExpr": "replace(datum.label, '−', '-')"}}, "y2": {"field": "u3"}}},
      {"mark": {"type": "area", "color": "#b7b7b7"}, "encoding": {"y": {"field": "l2", "type": "quantitative", "title": null}, "y2": {"field": "u2"}}},
      {"mark": {"type": "area", "color": "#a2a2a2"}, "encoding": {"y": {"field": "l1", "type": "quantitative", "title": null}, "y2": {"field": "u1"}}},
      {"mark": {"type": "line", "color": "black", "strokeWidth": 1.2}, "encoding": {"y": {"field": "m", "type": "quantitative", "title": null}}},
      {"transform": [{"filter": "datum.h == 1"}], "mark": {"type": "rule", "color": "red", "strokeWidth": 1.3}, "encoding": {"x": {"datum": 0.52}, "x2": {"datum": 13.48}, "y": {"datum": 0}}}
    ]},

    {"width": 202, "height": 144, "data": {"name": "one"}, "layer": [
      {"mark": {"type": "text", "text": "Cyber (U)", "font": "DejaVu Serif", "fontSize": 24, "align": "left", "baseline": "alphabetic", "color": "black"},
       "encoding": {"x": {"datum": 16, "type": "quantitative", "scale": {"domain": [0, 202], "range": [0, 202], "nice": false, "zero": false}, "axis": null},
                    "y": {"datum": 48, "type": "quantitative", "scale": {"domain": [0, 144], "range": [0, 144], "nice": false, "zero": false}, "axis": null}}},
      {"mark": {"type": "rule", "color": "#444", "strokeWidth": 1.5}, "encoding": {"x": {"datum": 167, "type": "quantitative"}}}
    ]},
    {"width": 216.3, "height": 144, "data": {"name": "irf"}, "transform": [{"filter": "datum.r == 'CU' && datum.i == 'KU'"}],
     "encoding": {"x": {"field": "h", "type": "quantitative", "title": null, "scale": {"domain": [0.52, 13.48], "range": [0, 193], "nice": false, "zero": false}, "axis": {"values": [2, 4, 6, 8, 10, 12], "tickCount": 20, "format": "d", "offset": -43, "title": null}}},
     "layer": [
      {"mark": {"type": "area", "color": "#cfcfcf"}, "encoding": {"y": {"field": "l3", "type": "quantitative", "title": null, "scale": {"domain": [-0.8412, 1.6212], "zero": false, "nice": false, "range": [101, 0]}, "axis": {"title": null, "tickCount": 20, "values": [-0.5, 0, 0.5, 1, 1.5], "format": ".1f", "labelExpr": "replace(datum.label, '−', '-')"}}, "y2": {"field": "u3"}}},
      {"mark": {"type": "area", "color": "#b7b7b7"}, "encoding": {"y": {"field": "l2", "type": "quantitative", "title": null}, "y2": {"field": "u2"}}},
      {"mark": {"type": "area", "color": "#a2a2a2"}, "encoding": {"y": {"field": "l1", "type": "quantitative", "title": null}, "y2": {"field": "u1"}}},
      {"mark": {"type": "line", "color": "black", "strokeWidth": 1.2}, "encoding": {"y": {"field": "m", "type": "quantitative", "title": null}}},
      {"transform": [{"filter": "datum.h == 1"}], "mark": {"type": "rule", "color": "red", "strokeWidth": 1.3}, "encoding": {"x": {"datum": 0.52}, "x2": {"datum": 13.48}, "y": {"datum": 0}}}
    ]},
    {"width": 216.3, "height": 144, "data": {"name": "irf"}, "transform": [{"filter": "datum.r == 'CU' && datum.i == 'KR'"}],
     "encoding": {"x": {"field": "h", "type": "quantitative", "title": null, "scale": {"domain": [0.52, 13.48], "range": [0, 193], "nice": false, "zero": false}, "axis": {"values": [2, 4, 6, 8, 10, 12], "tickCount": 20, "format": "d", "offset": -43, "title": null}}},
     "layer": [
      {"mark": {"type": "area", "color": "#cfcfcf"}, "encoding": {"y": {"field": "l3", "type": "quantitative", "title": null, "scale": {"domain": [-1.32, 1.92], "zero": false, "nice": false, "range": [101, 0]}, "axis": {"title": null, "tickCount": 20, "values": [-1, -0.5, 0, 0.5, 1, 1.5], "format": ".1f", "labelExpr": "datum.value % 1 == 0 ? replace(datum.label, '−', '-') : ''"}}, "y2": {"field": "u3"}}},
      {"mark": {"type": "area", "color": "#b7b7b7"}, "encoding": {"y": {"field": "l2", "type": "quantitative", "title": null}, "y2": {"field": "u2"}}},
      {"mark": {"type": "area", "color": "#a2a2a2"}, "encoding": {"y": {"field": "l1", "type": "quantitative", "title": null}, "y2": {"field": "u1"}}},
      {"mark": {"type": "line", "color": "black", "strokeWidth": 1.2}, "encoding": {"y": {"field": "m", "type": "quantitative", "title": null}}},
      {"transform": [{"filter": "datum.h == 1"}], "mark": {"type": "rule", "color": "red", "strokeWidth": 1.3}, "encoding": {"x": {"datum": 0.52}, "x2": {"datum": 13.48}, "y": {"datum": 0}}}
    ]},
    {"width": 216.3, "height": 144, "data": {"name": "irf"}, "transform": [{"filter": "datum.r == 'CU' && datum.i == 'CU'"}],
     "encoding": {"x": {"field": "h", "type": "quantitative", "title": null, "scale": {"domain": [0.52, 13.48], "range": [0, 193], "nice": false, "zero": false}, "axis": {"values": [2, 4, 6, 8, 10, 12], "tickCount": 20, "format": "d", "offset": -43, "title": null}}},
     "layer": [
      {"mark": {"type": "area", "color": "#cfcfcf"}, "encoding": {"y": {"field": "l3", "type": "quantitative", "title": null, "scale": {"domain": [-0.392, 10.192], "zero": false, "nice": false, "range": [101, 0]}, "axis": {"title": null, "tickCount": 20, "values": [0, 2, 4, 6, 8, 10], "format": "d"}}, "y2": {"field": "u3"}}},
      {"mark": {"type": "area", "color": "#b7b7b7"}, "encoding": {"y": {"field": "l2", "type": "quantitative", "title": null}, "y2": {"field": "u2"}}},
      {"mark": {"type": "area", "color": "#a2a2a2"}, "encoding": {"y": {"field": "l1", "type": "quantitative", "title": null}, "y2": {"field": "u1"}}},
      {"mark": {"type": "line", "color": "black", "strokeWidth": 1.2}, "encoding": {"y": {"field": "m", "type": "quantitative", "title": null}}},
      {"transform": [{"filter": "datum.h == 1"}], "mark": {"type": "rule", "color": "red", "strokeWidth": 1.3}, "encoding": {"x": {"datum": 0.52}, "x2": {"datum": 13.48}, "y": {"datum": 0}}}
    ]},
    {"width": 199.1, "height": 144, "data": {"name": "irf"}, "transform": [{"filter": "datum.r == 'CU' && datum.i == 'CR'"}],
     "encoding": {"x": {"field": "h", "type": "quantitative", "title": null, "scale": {"domain": [0.52, 13.48], "range": [0, 193], "nice": false, "zero": false}, "axis": {"values": [2, 4, 6, 8, 10, 12], "tickCount": 20, "format": "d", "offset": -43, "title": null}}},
     "layer": [
      {"mark": {"type": "area", "color": "#cfcfcf"}, "encoding": {"y": {"field": "l3", "type": "quantitative", "title": null, "scale": {"domain": [-1.544, 0.994], "zero": false, "nice": false, "range": [101, 0]}, "axis": {"title": null, "tickCount": 20, "values": [-1.5, -1, -0.5, 0, 0.5], "format": ".1f", "labelExpr": "datum.value == -1 ? '' : replace(datum.label, '−', '-')"}}, "y2": {"field": "u3"}}},
      {"mark": {"type": "area", "color": "#b7b7b7"}, "encoding": {"y": {"field": "l2", "type": "quantitative", "title": null}, "y2": {"field": "u2"}}},
      {"mark": {"type": "area", "color": "#a2a2a2"}, "encoding": {"y": {"field": "l1", "type": "quantitative", "title": null}, "y2": {"field": "u1"}}},
      {"mark": {"type": "line", "color": "black", "strokeWidth": 1.2}, "encoding": {"y": {"field": "m", "type": "quantitative", "title": null}}},
      {"transform": [{"filter": "datum.h == 1"}], "mark": {"type": "rule", "color": "red", "strokeWidth": 1.3}, "encoding": {"x": {"datum": 0.52}, "x2": {"datum": 13.48}, "y": {"datum": 0}}}
    ]},

    {"width": 202, "height": 144, "data": {"name": "one"}, "layer": [
      {"mark": {"type": "text", "text": "Cyber (R)", "font": "DejaVu Serif", "fontSize": 24, "align": "left", "baseline": "alphabetic", "color": "black"},
       "encoding": {"x": {"datum": 16, "type": "quantitative", "scale": {"domain": [0, 202], "range": [0, 202], "nice": false, "zero": false}, "axis": null},
                    "y": {"datum": 59, "type": "quantitative", "scale": {"domain": [0, 144], "range": [0, 144], "nice": false, "zero": false}, "axis": null}}},
      {"mark": {"type": "rule", "color": "#444", "strokeWidth": 1.5}, "encoding": {"x": {"datum": 167, "type": "quantitative"}}}
    ]},
    {"width": 216.3, "height": 144, "data": {"name": "irf"}, "transform": [{"filter": "datum.r == 'CR' && datum.i == 'KU'"}],
     "encoding": {"x": {"field": "h", "type": "quantitative", "title": null, "scale": {"domain": [0.52, 13.48], "range": [0, 193], "nice": false, "zero": false}, "axis": {"values": [2, 4, 6, 8, 10, 12], "tickCount": 20, "format": "d", "offset": -43, "title": null}}},
     "layer": [
      {"mark": {"type": "area", "color": "#cfcfcf"}, "encoding": {"y": {"field": "l3", "type": "quantitative", "title": null, "scale": {"domain": [-0.3628, 0.5228], "zero": false, "nice": false, "range": [101, 0]}, "axis": {"title": null, "tickCount": 20, "values": [-0.2, 0, 0.2, 0.4], "format": ".1f", "labelExpr": "replace(datum.label, '−', '-')"}}, "y2": {"field": "u3"}}},
      {"mark": {"type": "area", "color": "#b7b7b7"}, "encoding": {"y": {"field": "l2", "type": "quantitative", "title": null}, "y2": {"field": "u2"}}},
      {"mark": {"type": "area", "color": "#a2a2a2"}, "encoding": {"y": {"field": "l1", "type": "quantitative", "title": null}, "y2": {"field": "u1"}}},
      {"mark": {"type": "line", "color": "black", "strokeWidth": 1.2}, "encoding": {"y": {"field": "m", "type": "quantitative", "title": null}}},
      {"transform": [{"filter": "datum.h == 1"}], "mark": {"type": "rule", "color": "red", "strokeWidth": 1.3}, "encoding": {"x": {"datum": 0.52}, "x2": {"datum": 13.48}, "y": {"datum": 0}}}
    ]},
    {"width": 216.3, "height": 144, "data": {"name": "irf"}, "transform": [{"filter": "datum.r == 'CR' && datum.i == 'KR'"}],
     "encoding": {"x": {"field": "h", "type": "quantitative", "title": null, "scale": {"domain": [0.52, 13.48], "range": [0, 193], "nice": false, "zero": false}, "axis": {"values": [2, 4, 6, 8, 10, 12], "tickCount": 20, "format": "d", "offset": -43, "title": null}}},
     "layer": [
      {"mark": {"type": "area", "color": "#cfcfcf"}, "encoding": {"y": {"field": "l3", "type": "quantitative", "title": null, "scale": {"domain": [-0.3296, 0.1996], "zero": false, "nice": false, "range": [101, 0]}, "axis": {"title": null, "tickCount": 20, "values": [-0.3, -0.2, -0.1, 0, 0.1], "format": ".1f", "labelExpr": "abs(round(datum.value * 10)) % 2 == 1 ? replace(datum.label, '−', '-') : ''"}}, "y2": {"field": "u3"}}},
      {"mark": {"type": "area", "color": "#b7b7b7"}, "encoding": {"y": {"field": "l2", "type": "quantitative", "title": null}, "y2": {"field": "u2"}}},
      {"mark": {"type": "area", "color": "#a2a2a2"}, "encoding": {"y": {"field": "l1", "type": "quantitative", "title": null}, "y2": {"field": "u1"}}},
      {"mark": {"type": "line", "color": "black", "strokeWidth": 1.2}, "encoding": {"y": {"field": "m", "type": "quantitative", "title": null}}},
      {"transform": [{"filter": "datum.h == 1"}], "mark": {"type": "rule", "color": "red", "strokeWidth": 1.3}, "encoding": {"x": {"datum": 0.52}, "x2": {"datum": 13.48}, "y": {"datum": 0}}}
    ]},
    {"width": 216.3, "height": 144, "data": {"name": "irf"}, "transform": [{"filter": "datum.r == 'CR' && datum.i == 'CU'"}],
     "encoding": {"x": {"field": "h", "type": "quantitative", "title": null, "scale": {"domain": [0.52, 13.48], "range": [0, 193], "nice": false, "zero": false}, "axis": {"values": [2, 4, 6, 8, 10, 12], "tickCount": 20, "format": "d", "offset": -43, "title": null}}},
     "layer": [
      {"mark": {"type": "area", "color": "#cfcfcf"}, "encoding": {"y": {"field": "l3", "type": "quantitative", "title": null, "scale": {"domain": [-0.376, 0.326], "zero": false, "nice": false, "range": [101, 0]}, "axis": {"title": null, "tickCount": 20, "values": [-0.3, -0.2, -0.1, 0, 0.1, 0.2, 0.3], "format": ".1f", "labelExpr": "abs(round(datum.value * 10)) % 2 == 1 ? replace(datum.label, '−', '-') : ''"}}, "y2": {"field": "u3"}}},
      {"mark": {"type": "area", "color": "#b7b7b7"}, "encoding": {"y": {"field": "l2", "type": "quantitative", "title": null}, "y2": {"field": "u2"}}},
      {"mark": {"type": "area", "color": "#a2a2a2"}, "encoding": {"y": {"field": "l1", "type": "quantitative", "title": null}, "y2": {"field": "u1"}}},
      {"mark": {"type": "line", "color": "black", "strokeWidth": 1.2}, "encoding": {"y": {"field": "m", "type": "quantitative", "title": null}}},
      {"transform": [{"filter": "datum.h == 1"}], "mark": {"type": "rule", "color": "red", "strokeWidth": 1.3}, "encoding": {"x": {"datum": 0.52}, "x2": {"datum": 13.48}, "y": {"datum": 0}}}
    ]},
    {"width": 199.1, "height": 144, "data": {"name": "irf"}, "transform": [{"filter": "datum.r == 'CR' && datum.i == 'CR'"}],
     "encoding": {"x": {"field": "h", "type": "quantitative", "title": null, "scale": {"domain": [0.52, 13.48], "range": [0, 193], "nice": false, "zero": false}, "axis": {"values": [2, 4, 6, 8, 10, 12], "tickCount": 20, "format": "d", "offset": -43, "title": null}}},
     "layer": [
      {"mark": {"type": "area", "color": "#cfcfcf"}, "encoding": {"y": {"field": "l3", "type": "quantitative", "title": null, "scale": {"domain": [-0.176, 1.876], "zero": false, "nice": false, "range": [101, 0]}, "axis": {"title": null, "tickCount": 20, "values": [0, 0.5, 1, 1.5], "format": ".1f"}}, "y2": {"field": "u3"}}},
      {"mark": {"type": "area", "color": "#b7b7b7"}, "encoding": {"y": {"field": "l2", "type": "quantitative", "title": null}, "y2": {"field": "u2"}}},
      {"mark": {"type": "area", "color": "#a2a2a2"}, "encoding": {"y": {"field": "l1", "type": "quantitative", "title": null}, "y2": {"field": "u1"}}},
      {"mark": {"type": "line", "color": "black", "strokeWidth": 1.2}, "encoding": {"y": {"field": "m", "type": "quantitative", "title": null}}},
      {"transform": [{"filter": "datum.h == 1"}], "mark": {"type": "rule", "color": "red", "strokeWidth": 1.3}, "encoding": {"x": {"datum": 0.52}, "x2": {"datum": 13.48}, "y": {"datum": 0}}}
    ]},

    {"width": 202, "height": 52, "data": {"name": "one"}, "layer": [
      {"mark": {"type": "text", "text": "Impulse:", "font": "DejaVu Serif", "fontSize": 24, "fontStyle": "italic", "align": "left", "baseline": "alphabetic", "color": "black"},
       "encoding": {"x": {"datum": 18, "type": "quantitative", "scale": {"domain": [0, 202], "range": [0, 202], "nice": false, "zero": false}, "axis": null},
                    "y": {"datum": 48, "type": "quantitative", "scale": {"domain": [0, 52], "range": [0, 52], "nice": false, "zero": false}, "axis": null}}},
      {"mark": {"type": "rule", "color": "#444", "strokeWidth": 1.5}, "encoding": {"x": {"datum": 167, "type": "quantitative"}}},
      {"mark": {"type": "rule", "color": "#444", "strokeWidth": 1.5}, "encoding": {"y": {"datum": 21, "type": "quantitative"}}}
    ]},
    {"width": 216.3, "height": 52, "data": {"name": "one"}, "layer": [
      {"mark": {"type": "text", "text": "Kinetic (U)", "font": "DejaVu Serif", "fontSize": 24, "align": "left", "baseline": "alphabetic", "color": "black"},
       "encoding": {"x": {"datum": -19, "type": "quantitative", "scale": {"domain": [0, 216.3], "range": [0, 216.3], "nice": false, "zero": false}, "axis": null},
                    "y": {"datum": 48, "type": "quantitative", "scale": {"domain": [0, 52], "range": [0, 52], "nice": false, "zero": false}, "axis": null}}},
      {"mark": {"type": "rule", "color": "#444", "strokeWidth": 1.5}, "encoding": {"y": {"datum": 21, "type": "quantitative"}}}
    ]},
    {"width": 216.3, "height": 52, "data": {"name": "one"}, "layer": [
      {"mark": {"type": "text", "text": "Kinetic (R)", "font": "DejaVu Serif", "fontSize": 24, "align": "left", "baseline": "alphabetic", "color": "black"},
       "encoding": {"x": {"datum": -39, "type": "quantitative", "scale": {"domain": [0, 216.3], "range": [0, 216.3], "nice": false, "zero": false}, "axis": null},
                    "y": {"datum": 48, "type": "quantitative", "scale": {"domain": [0, 52], "range": [0, 52], "nice": false, "zero": false}, "axis": null}}},
      {"mark": {"type": "rule", "color": "#444", "strokeWidth": 1.5}, "encoding": {"y": {"datum": 21, "type": "quantitative"}}}
    ]},
    {"width": 216.3, "height": 52, "data": {"name": "one"}, "layer": [
      {"mark": {"type": "text", "text": "Cyber (U)", "font": "DejaVu Serif", "fontSize": 24, "align": "left", "baseline": "alphabetic", "color": "black"},
       "encoding": {"x": {"datum": -52, "type": "quantitative", "scale": {"domain": [0, 216.3], "range": [0, 216.3], "nice": false, "zero": false}, "axis": null},
                    "y": {"datum": 48, "type": "quantitative", "scale": {"domain": [0, 52], "range": [0, 52], "nice": false, "zero": false}, "axis": null}}},
      {"mark": {"type": "rule", "color": "#444", "strokeWidth": 1.5}, "encoding": {"y": {"datum": 21, "type": "quantitative"}}}
    ]},
    {"width": 199.1, "height": 52, "data": {"name": "one"}, "layer": [
      {"mark": {"type": "text", "text": "Cyber (R)", "font": "DejaVu Serif", "fontSize": 24, "align": "left", "baseline": "alphabetic", "color": "black"},
       "encoding": {"x": {"datum": -22, "type": "quantitative", "scale": {"domain": [0, 199.1], "range": [0, 199.1], "nice": false, "zero": false}, "axis": null},
                    "y": {"datum": 48, "type": "quantitative", "scale": {"domain": [0, 52], "range": [0, 52], "nice": false, "zero": false}, "axis": null}}},
      {"mark": {"type": "rule", "color": "#444", "strokeWidth": 1.5}, "encoding": {"y": {"datum": 21, "type": "quantitative"}}}
    ]}
  ],
  "config": {
    "view": {"stroke": null},
    "font": "Liberation Sans",
    "axis": {
      "grid": false,
      "domainColor": "#000",
      "domainWidth": 1,
      "tickColor": "#000",
      "tickWidth": 1,
      "tickSize": 4,
      "labelFont": "Liberation Sans",
      "labelFontSize": 7,
      "labelColor": "#111",
      "labelPadding": 7,
      "labelFlush": false,
      "labelOverlap": false
    },
    "axisX": {"labelAngle": 0, "labelAlign": "center", "labelBaseline": "top"},
    "axisY": {"labelAngle": 270, "labelAlign": "center", "labelBaseline": "bottom"}
  }
}
